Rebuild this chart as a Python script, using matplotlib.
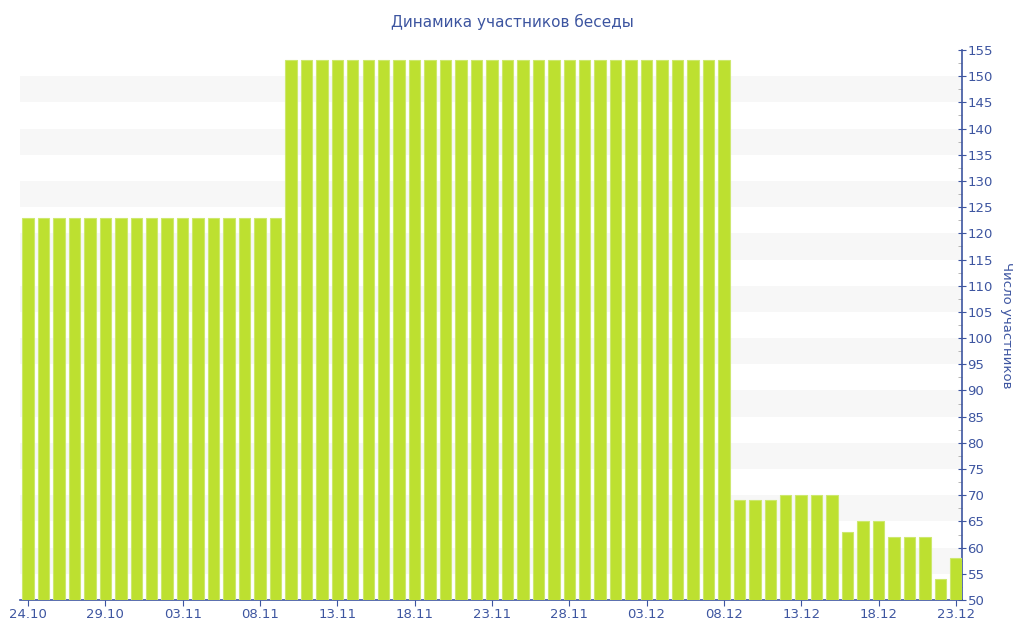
import matplotlib
matplotlib.use("Agg")
import matplotlib.pyplot as plt
import numpy as np
import pandas as pd

# daily member counts, 24.10 .. 23.12
dates = pd.date_range("2015-10-24", "2015-12-23", freq="D")
members = ([123] * 17 + [153] * 29 + [69] * 3 + [70] * 4 +
           [63, 65, 65, 62, 62, 62, 54, 58])
title = "Динамика участников беседы"
ylabel = "Число участников"

axis_col = "#3d55a0"
bar_col = "#bde030"

fig = plt.figure(figsize=(10.24, 6.4), dpi=100)
ax = fig.add_axes([20 / 1024, 40 / 640, 942 / 1024, 550 / 640])

x = np.arange(len(members))
ax.bar(x, members, width=0.74, color=bar_col, edgecolor="#cde86e",
       linewidth=0.8, bottom=0, zorder=3)

# alternating background bands
for lo in range(55, 155, 10):
    ax.axhspan(lo, lo + 5, color="#f7f7f7", zorder=0, lw=0)

ax.set_xlim(-0.52, 60.4)
ax.set_ylim(50, 155)

tick_idx = list(range(0, len(dates), 5))
ax.set_xticks(tick_idx)
ax.set_xticklabels([dates[i].strftime("%d.%m") for i in tick_idx])

ax.yaxis.tick_right()
ax.yaxis.set_label_position("right")
ax.set_yticks(range(50, 156, 5))
ax.set_yticks(np.arange(52.5, 155, 5), minor=True)

for s in ["top", "left"]:
    ax.spines[s].set_visible(False)
ax.spines["bottom"].set_color(axis_col)
ax.spines["right"].set_color(axis_col)
ax.spines["bottom"].set_linewidth(1.2)
ax.spines["right"].set_linewidth(1.2)

ax.tick_params(axis="x", colors=axis_col, labelsize=9.5, length=4,
               direction="out", pad=2)
ax.tick_params(axis="y", which="major", colors=axis_col, labelsize=9.5,
               length=6, direction="inout", pad=1)
ax.tick_params(axis="y", which="minor", color="#aaaaaa", length=3,
               direction="in")

ax.set_ylabel(ylabel, color=axis_col, fontsize=9.5, rotation=-90,
              labelpad=14)
fig.text(0.5, 1 - 22 / 640, title, ha="center", va="center",
         color=axis_col, fontsize=11)

fig.savefig("out.png", dpi=100)
